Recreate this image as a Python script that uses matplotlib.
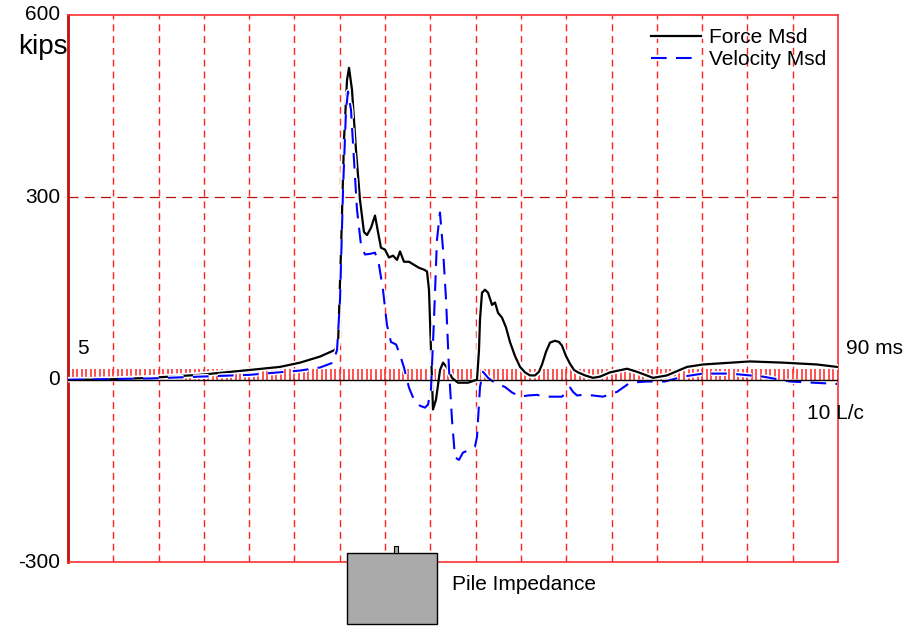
import numpy as np
import matplotlib.pyplot as plt
import matplotlib.patheffects as pe
from matplotlib.patches import Rectangle
import matplotlib.transforms as mtrans

plt.rcParams['font.family'] = ['Liberation Sans', 'DejaVu Sans']

# time in ms, force in kips
force_t = [5.0, 8.53, 14.05, 19.57, 25.09, 28.40, 30.61, 32.82, 34.47, 34.81,
           35.14, 35.47, 35.80, 36.02, 36.35, 36.79, 37.23, 37.67, 38.01, 38.45,
           38.89, 39.22, 39.55, 39.99, 40.43, 40.88, 41.32, 41.65, 42.09, 42.64,
           43.19, 43.75, 44.30, 44.63, 44.85, 45.07, 45.29, 45.62, 46.07, 46.40,
           46.84, 47.39, 48.05, 49.16, 50.15, 50.37, 50.48, 50.70, 51.03, 51.37,
           51.81, 52.14, 52.47, 52.91, 53.35, 53.79, 54.34, 54.90, 55.45, 56.00,
           56.55, 56.99, 57.33, 57.77, 58.21, 58.76, 59.20, 59.53, 59.97, 60.42,
           60.86, 61.30, 62.08, 62.95, 63.73, 64.83, 66.71, 67.81, 69.58, 71.12,
           73.33, 75.10, 80.29, 83.93, 87.68, 89.89]
force_k = [0, 0, 3, 8, 16, 21, 28, 38, 49, 58,
           214, 395, 493, 513, 477, 378, 296, 243, 238, 250,
           270, 243, 217, 214, 201, 204, 197, 211, 194, 194,
           189, 184, 181, 178, 148, 49, -49, -33, 16, 28,
           20, 3, -5, -5, 0, 49, 99, 143, 148, 143,
           123, 127, 110, 102, 86, 62, 39, 21, 12, 7,
           7, 13, 25, 46, 61, 64, 62, 56, 39, 26,
           16, 12, 7, 3, 5, 12, 18, 13, 3, 7,
           21, 25, 30, 28, 25, 21]

vel_t = [5.0, 14.05, 19.57, 25.09, 30.61, 32.82, 34.25, 34.70, 35.03, 35.36,
         35.69, 35.91, 36.24, 36.57, 36.90, 37.34, 37.78, 38.34, 38.89, 39.33,
         39.77, 40.21, 40.65, 41.21, 41.65, 42.09, 42.64, 43.19, 43.86, 44.41,
         44.74, 45.07, 45.40, 45.73, 46.06, 46.40, 46.73, 47.06, 47.39, 47.72,
         48.16, 48.60, 49.38, 49.93, 50.15, 50.48, 50.81, 51.37, 51.92, 52.58,
         53.24, 54.01, 54.90, 55.78, 56.77, 57.66, 58.54, 59.53, 60.08, 60.42,
         60.75, 61.19, 61.85, 62.95, 64.06, 65.61, 67.04, 68.92, 70.90, 72.89,
         75.10, 78.08, 81.72, 84.70, 89.89]
vel_k = [0, 2, 5, 8, 15, 20, 28, 49, 132, 312,
         444, 474, 444, 362, 280, 222, 206, 207, 209, 189,
         148, 90, 62, 58, 41, 20, -13, -33, -43, -46,
         -41, -16, 99, 230, 275, 214, 132, 16, -66, -128,
         -132, -120, -115, -110, -94, -12, 13, 3, -3, -8,
         -12, -21, -28, -26, -25, -28, -28, -28, -20, -13,
         -20, -26, -25, -26, -28, -20, -5, -3, -3, 5,
         10, 10, 5, -3, -7]

grid_t = np.arange(10, 90, 5)
comb_t = np.arange(5, 90.01, 0.5)

fig = plt.figure(figsize=(9.19, 6.26), dpi=100)
ax = fig.add_axes([68 / 919, 64 / 626, 770 / 919, 547 / 626])
ax.set_xlim(5, 90)
ax.set_ylim(-300, 600)

for t in grid_t:
    ax.axvline(t, color='#ff2020', lw=1, dashes=(5, 3.5), zorder=1)
ax.axhline(300, color='#b81010', lw=0.9, dashes=(8, 5), zorder=1)
ax.vlines(comb_t, 0, 18, color='#ff3333', lw=1.2, zorder=1)

halo = [pe.Stroke(linewidth=4, foreground='white'), pe.Normal()]
ax.plot(force_t, force_k, color='black', lw=1.6, label='Force Msd',
        zorder=3, path_effects=halo)
ax.plot(vel_t, vel_k, color='#0000ff', lw=1.5, dashes=(7.5, 4.5),
        label='Velocity Msd', zorder=3,
        path_effects=[pe.Stroke(linewidth=3.5, foreground='white'), pe.Normal()])
ax.axhline(0, color='black', lw=1, zorder=4)

for s in ['top', 'right', 'bottom']:
    ax.spines[s].set_color('#ff3030')
    ax.spines[s].set_linewidth(1.2)
ax.spines['left'].set_color('#c01010')
ax.spines['left'].set_linewidth(2)
ax.set_xticks([])
ax.set_yticks([])

tr = mtrans.blended_transform_factory(ax.transAxes, ax.transData)
for v, s in [(600, '600'), (300, '300'), (0, '0'), (-300, '-300')]:
    ax.text(-0.01, v, s, transform=tr, ha='right', va='center', fontsize=15)
ax.text(-0.001, 548, 'kips', transform=tr, ha='right', va='center', fontsize=20)
ax.text(0.012, 52, '5', transform=tr, ha='left', va='center', fontsize=15)
ax.text(1.01, 52, '90 ms', transform=tr, ha='left', va='center', fontsize=15)
ax.text(0.96, -55, '10 L/c', transform=tr, ha='left', va='center', fontsize=15)

leg = ax.legend(loc='upper right', bbox_to_anchor=(1.009, 1.01), frameon=False,
                fontsize=15, handlelength=2.4, handletextpad=0.4,
                labelspacing=0.15)

# pile impedance marker below the axes
fig.patches.append(Rectangle((347 / 919, 2 / 626), 90 / 919, 71 / 626,
                             transform=fig.transFigure, facecolor='#aaaaaa',
                             edgecolor='black', lw=1, zorder=5))
fig.patches.append(Rectangle((394 / 919, 73 / 626), 4 / 919, 7 / 626,
                             transform=fig.transFigure, facecolor='#aaaaaa',
                             edgecolor='black', lw=0.8, zorder=5))
fig.text(452 / 919, 41 / 626, 'Pile Impedance', ha='left', va='center',
         fontsize=15)

fig.savefig('out.png', dpi=100)
